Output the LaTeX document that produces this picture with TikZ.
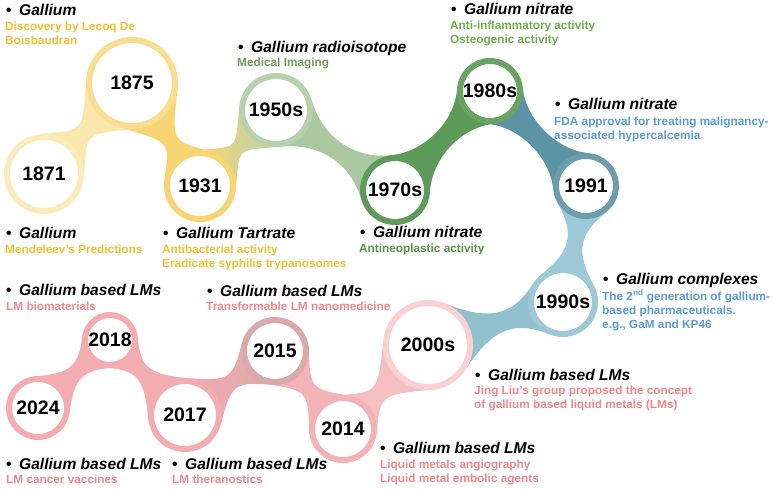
\documentclass[tikz,border=0pt]{standalone}
\usepackage{fontspec}
\setmainfont{Liberation Sans}
\usetikzlibrary{calc,backgrounds}
\definecolor{yA}{HTML}{FBEBBA}
\definecolor{yB}{HTML}{F9DD90}
\definecolor{yC}{HTML}{F8D574}
\definecolor{gA}{HTML}{B7D1AC}
\definecolor{gB}{HTML}{A9C8A0}
\definecolor{gC}{HTML}{5E9A5B}
\definecolor{gD}{HTML}{5C9A59}
\definecolor{gE}{HTML}{6AA263}
\definecolor{bA}{HTML}{5C93A5}
\definecolor{bB}{HTML}{6C9DAD}
\definecolor{bC}{HTML}{9DC8D5}
\definecolor{bD}{HTML}{91C0CE}
\definecolor{pA}{HTML}{FBD0D3}
\definecolor{pB}{HTML}{F5BEC1}
\definecolor{pC}{HTML}{F3B2B5}
\definecolor{pD}{HTML}{D9AAAB}
\definecolor{pE}{HTML}{F3ACAF}
\definecolor{tY}{HTML}{F2BF30}
\definecolor{tGa}{HTML}{6E9C55}
\definecolor{tGb}{HTML}{5E8F48}
\definecolor{tGc}{HTML}{72AC4C}
\definecolor{tB}{HTML}{5B9BD5}
\definecolor{tP}{HTML}{F0878B}
\tikzset{
 yr/.style={circle, fill=white, line width=6pt, inner sep=0pt, minimum size=#1,
   font=\fontsize{19.5}{20}\selectfont\bfseries},
 ttl/.style={anchor=base west, inner sep=0pt, font=\fontsize{15.6}{16}\selectfont\bfseries\itshape},
 sub/.style={anchor=base west, inner sep=0pt, font=\fontsize{11.8}{14}\selectfont\bfseries, text=#1},
}
\newcommand\bul{\textup{\textbullet}\hspace{7.5pt}}
% metaball bridge between two circle nodes
\newcommand\bridge[5][]{%
\path[#1] let \p1=($(#3)-(#2)$), \n1={atan2(\y1,\x1)},
  \p2=($(#2.\n1)-(#2)$), \n2={veclen(\x2,\y2)},
  \p3=($(#3.\n1)-(#3)$), \n3={veclen(\x3,\y3)},
  \n4={(\n2*sin(#4)-#5)*4/(3*cos(#4))},
  \n5={(\n3*sin(#4)-#5)*4/(3*cos(#4))},
  \n6={\n1+#4}, \n7={\n1-#4}, \n8={\n1+180-#4}, \n9={\n1+180+#4}
 in (#2.\n6) .. controls ($(#2.\n6)+(\n6-90:\n4)$) and ($(#3.\n8)+(\n8+90:\n5)$) .. (#3.\n8)
  -- (#3.\n9) .. controls ($(#3.\n9)+(\n9-90:\n5)$) and ($(#2.\n7)+(\n7+90:\n4)$) .. (#2.\n7) -- cycle;}
\begin{document}
\begin{tikzpicture}[x=1pt,y=-1pt]
\useasboundingbox (0,0) rectangle (773,489);
% year circles
\node[yr=74, draw=yA] (c1871) at (44,174) {1871};
\node[yr=86, draw=yB] (c1875) at (132,83) {1875};
\node[yr=66, draw=yC] (c1931) at (200,186) {1931};
\node[yr=68, draw=gA] (c1950) at (276,110) {1950s};
\node[yr=64, draw=gC] (c1970) at (395,190) {1970s};
\node[yr=60, draw=gE] (c1980) at (490,91) {1980s};
\node[yr=60, draw=bB] (c1991) at (586,186) {1991};
\node[yr=64, draw=bC] (c1990) at (563,302) {1990s};
\node[yr=84, draw=pA] (c2000) at (428,345) {2000s};
\node[yr=62, draw=pC] (c2014) at (343,429) {2014};
\node[yr=62, draw=pD] (c2015) at (275,351) {2015};
\node[yr=68, draw=pE] (c2017) at (185,415) {2017};
\node[yr=50, draw=pE] (c2018) at (110,340) {2018};
\node[yr=58, draw=pE] (c2024) at (38,408) {2024};
% bridges
\begin{pgfonlayer}{background}
\bridge[fill=yA!70!yB]{c1871}{c1875}{50}{9}
\bridge[fill=yC]{c1875}{c1931}{50}{8}
\bridge[left color=yC, right color=gA]{c1931}{c1950}{50}{7}
\bridge[fill=gB]{c1950}{c1970}{50}{9}
\bridge[fill=gD]{c1970}{c1980}{50}{10}
\bridge[fill=bA]{c1980}{c1991}{50}{10}
\bridge[fill=bC]{c1991}{c1990}{50}{8}
\bridge[fill=bD]{c1990}{c2000}{50}{10}
\bridge[fill=pB]{c2000}{c2014}{50}{9}
\bridge[fill=pC]{c2014}{c2015}{50}{8}
\bridge[left color=pE, right color=pD]{c2017}{c2015}{50}{8}
\bridge[fill=pE]{c2017}{c2018}{50}{8}
\bridge[fill=pE]{c2018}{c2024}{50}{8}
\end{pgfonlayer}
% texts
\node[ttl] (a1) at (6,16) {\bul Gallium};
\node[sub=tY] (a2) at (5,31) {Discovery by Lecoq De};
\node[sub=tY] (a3) at (5,45) {Boisbaudran};
\node[ttl] (b1) at (6,238) {\bul Gallium};
\node[sub=tY] (b2) at (5,253) {Mendeleev's Predictions};
\node[ttl] (d1) at (163,238) {\bul Gallium Tartrate};
\node[sub=tY] (d2) at (162,253) {Antibacterial activity};
\node[sub=tY] (d3) at (162,267) {Eradicate syphilis trypanosomes};
\node[ttl] (e1) at (238,53) {\bul Gallium radioisotope};
\node[sub=tGa] (e2) at (237,67) {Medical Imaging};
\node[ttl] (f1) at (360,237) {\bul Gallium nitrate};
\node[sub=tGb] (f2) at (359,252) {Antineoplastic activity};
\node[ttl] (g1) at (451,15) {\bul Gallium nitrate};
\node[sub=tGc] (g2) at (450,30) {Anti-inflammatory activity};
\node[sub=tGc] (g3) at (450,44) {Osteogenic activity};
\node[ttl] (h1) at (555,110) {\bul Gallium nitrate};
\node[sub=tB] (h2) at (554,126) {FDA approval for treating malignancy-};
\node[sub=tB] (h3) at (554,140) {associated hypercalcemia};
\node[ttl] (i1) at (603,284) {\bul Gallium complexes};
\node[sub=tB] (i2) at (602,300) {The 2\textsuperscript{nd} generation of gallium-};
\node[sub=tB] (i3) at (602,314) {based pharmaceuticals.};
\node[sub=tB] (i4) at (602,328) {e.g., GaM and KP46};
\node[ttl] (j1) at (475,380) {\bul Gallium based LMs};
\node[sub=tP] (j2) at (474,394) {Jing Liu's group proposed the concept};
\node[sub=tP] (j3) at (474,408) {of gallium based liquid metals (LMs)};
\node[ttl] (k1) at (380,453) {\bul Gallium based LMs};
\node[sub=tP] (k2) at (380,468) {Liquid metals angiography};
\node[sub=tP] (k3) at (380,482) {Liquid metal embolic agents};
\node[ttl] (l1) at (6,295) {\bul Gallium based LMs};
\node[sub=tP] (l2) at (6,310) {LM biomaterials};
\node[ttl] (m1) at (207,296) {\bul Gallium based LMs};
\node[sub=tP] (m2) at (206,310) {Transformable LM nanomedicine};
\node[ttl] (n1) at (6,469) {\bul Gallium based LMs};
\node[sub=tP] (n2) at (6,483) {LM cancer vaccines};
\node[ttl] (o1) at (172,469) {\bul Gallium based LMs};
\node[sub=tP] (o2) at (172,483) {LM theranostics};
\end{tikzpicture}
\end{document}
